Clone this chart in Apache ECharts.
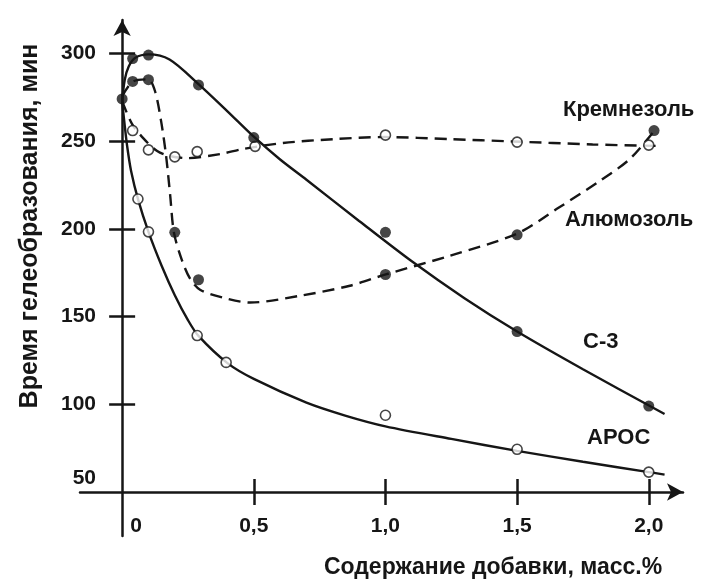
<!DOCTYPE html>
<html>
<head>
<meta charset="utf-8">
<script src="https://cdn.jsdelivr.net/npm/echarts@6/dist/echarts.min.js"></script>
<style>
  html, body { margin: 0; background: #fff; }
  #main { width: 701px; height: 579px; }
</style>
</head>
<body>
<div id="main"></div>
<script>
// сглаженные кривые
const c3CurveX = [0, 0.01, 0.025, 0.05, 0.1, 0.18, 0.29, 0.4, 0.5, 0.6, 0.7, 0.9, 1.1, 1.3, 1.5, 1.75, 2.06];
const c3CurveY = [273, 285, 292.5, 297.5, 299.4, 296.5, 282.5, 267, 252.5, 239.5, 228, 204.5, 181.5, 160.5, 141.5, 120, 94.5];

const alCurveX = [0, 0.042, 0.099, 0.125, 0.148, 0.167, 0.182, 0.197, 0.228, 0.258, 0.296, 0.383, 0.486, 0.676, 0.865, 0.998, 1.245, 1.499, 1.651, 1.814, 1.928, 2.023];
const alCurveY = [275.6, 284, 285.2, 278.4, 261.4, 241.5, 219.9, 197.7, 181.8, 171.6, 165.3, 160.8, 158, 161.9, 167.6, 173.9, 184.7, 197.2, 211.4, 227.3, 239.8, 256.3];

const krCurveX = [0, 0.038, 0.08, 0.133, 0.182, 0.247, 0.372, 0.459, 0.611, 0.801, 0.998, 1.245, 1.484, 1.787, 2.049];
const krCurveY = [272.7, 259.7, 251.7, 244.3, 241.5, 240.3, 242.6, 245.5, 248.9, 251.1, 252.3, 251.1, 249.8, 248.1, 247.2];

const arCurveX = [0, 0.008, 0.019, 0.034, 0.061, 0.1, 0.15, 0.2, 0.25, 0.29, 0.4, 0.5, 0.7, 0.85, 1.0, 1.25, 1.5, 1.75, 2.0, 2.06];
const arCurveY = [272.7, 261.4, 247.2, 233, 216.5, 198.3, 179, 162.2, 148, 139, 123.5, 114.5, 101, 93.5, 87.5, 80.3, 73.5, 67.3, 61.4, 60];

// экспериментальные точки
const c3PtX = [0, 0.04, 0.1, 0.29, 0.5, 1.0, 1.5, 2.0];
const c3PtY = [274, 297, 299, 282, 252, 198, 141.5, 99];

const alPtX = [0.04, 0.1, 0.2, 0.29, 1.0, 1.5, 2.02];
const alPtY = [284, 285, 198, 171, 174, 196.6, 256];

const krPtX = [0.04, 0.1, 0.2, 0.285, 0.505, 1.0, 1.5, 2.0];
const krPtY = [256, 245, 241, 244, 247, 253.4, 249.4, 247.7];

const arPtX = [0.06, 0.1, 0.285, 0.395, 1.0, 1.5, 2.0];
const arPtY = [217, 198.3, 139.2, 123.9, 93.8, 74.4, 61.4];

// оси
const xTicks = [0.5, 1.0, 1.5, 2.0];
const xLabels = [0, 0.5, 1.0, 1.5, 2.0];
const yTicks = [100, 150, 200, 250, 300];
const yLabels = [50, 100, 150, 200, 250, 300];

const curveNames = ['Кремнезоль', 'Алюмозоль', 'С-3', 'АРОС'];

const ink = '#161616';
const font = "'Liberation Sans', Arial, sans-serif";

function zip(xs, ys) {
  return xs.map((x, i) => [x, ys[i]]);
}

let chart = echarts.init(document.getElementById('main'));

let tickStyle = { color: ink, width: 2.5 };
let labelStyle = { fontSize: 21, fontWeight: 'bold', color: ink, fontFamily: font };

let curve = (name, xs, ys, dashed) => ({
  name: name,
  type: 'line',
  data: zip(xs, ys),
  smooth: 0.3,
  showSymbol: false,
  silent: true,
  z: 2,
  lineStyle: { color: ink, width: 2.4, type: dashed ? [12, 7] : 'solid', cap: 'butt' },
});

let points = (name, xs, ys, filled) => ({
  name: name,
  type: 'scatter',
  data: zip(xs, ys),
  symbol: 'circle',
  symbolSize: filled ? 11 : 10,
  z: 3,
  itemStyle: filled
    ? { color: ink }
    : { color: '#fff', borderColor: ink, borderWidth: 1.6 },
});

let option = {
  animation: false,
  backgroundColor: '#fff',
  grid: { left: 80, right: 18, top: 20, bottom: 43 },
  xAxis: [
    {
      type: 'value',
      position: 'bottom',
      min: -0.16,
      max: 2.13,
      offset: -44,
      axisLine: {
        show: true,
        onZero: false,
        symbol: ['none', 'arrow'],
        symbolSize: [13, 16],
        lineStyle: { color: ink, width: 2.5 },
      },
      axisTick: { show: true, customValues: xTicks, length: 13, lineStyle: tickStyle },
      axisLabel: {
        customValues: xLabels,
        margin: 24,
        ...labelStyle,
        formatter: (v) => (v === 0 ? '{z|0}' : v.toFixed(1).replace('.', ',')),
        rich: { z: { ...labelStyle, padding: [0, 0, 0, 28] } },
      },
      splitLine: { show: false },
    },
    {
      type: 'value',
      position: 'bottom',
      min: -0.16,
      max: 2.13,
      offset: -44,
      axisLine: { show: false, onZero: false },
      axisTick: { show: true, inside: true, customValues: xTicks, length: 13, lineStyle: tickStyle },
      axisLabel: { show: false },
      splitLine: { show: false },
    },
  ],
  yAxis: [
    {
      type: 'value',
      min: 25,
      max: 319,
      position: 'left',
      axisLine: {
        show: true,
        onZero: true,
        symbol: ['none', 'arrow'],
        symbolSize: [13, 16],
        lineStyle: { color: ink, width: 2.5 },
      },
      axisTick: { show: true, customValues: yTicks, length: 13, lineStyle: tickStyle },
      axisLabel: {
        customValues: yLabels,
        margin: -16,
        ...labelStyle,
        formatter: (v) => (v === 50 ? '{f|50}' : String(v)),
        rich: { f: { ...labelStyle, padding: [0, 0, 28, 0] } },
      },
      splitLine: { show: false },
    },
    {
      type: 'value',
      min: 25,
      max: 319,
      position: 'left',
      axisLine: { show: false, onZero: true },
      axisTick: { show: true, inside: true, customValues: yTicks, length: 13, lineStyle: tickStyle },
      axisLabel: { show: false },
      splitLine: { show: false },
    },
  ],
  graphic: [
    {
      type: 'text', x: 30, y: 226, rotation: Math.PI / 2,
      style: { text: 'Время гелеобразования, мин', align: 'center', verticalAlign: 'middle', fontSize: 25, fontWeight: 'bold', fontFamily: font, fill: ink },
    },
    {
      type: 'text', x: 493, y: 568,
      style: { text: 'Содержание добавки, масс.%', align: 'center', verticalAlign: 'middle', fontSize: 23, fontWeight: 'bold', fontFamily: font, fill: ink },
    },
    {
      type: 'text', x: 563, y: 110,
      style: { text: curveNames[0], align: 'left', verticalAlign: 'middle', fontSize: 22, fontWeight: 'bold', fontFamily: font, fill: ink },
    },
    {
      type: 'text', x: 565, y: 220,
      style: { text: curveNames[1], align: 'left', verticalAlign: 'middle', fontSize: 22, fontWeight: 'bold', fontFamily: font, fill: ink },
    },
    {
      type: 'text', x: 583, y: 342,
      style: { text: curveNames[2], align: 'left', verticalAlign: 'middle', fontSize: 22, fontWeight: 'bold', fontFamily: font, fill: ink },
    },
    {
      type: 'text', x: 587, y: 438,
      style: { text: curveNames[3], align: 'left', verticalAlign: 'middle', fontSize: 22, fontWeight: 'bold', fontFamily: font, fill: ink },
    },
  ],
  series: [
    curve(curveNames[0], krCurveX, krCurveY, true),
    curve(curveNames[1], alCurveX, alCurveY, true),
    curve(curveNames[2], c3CurveX, c3CurveY, false),
    curve(curveNames[3], arCurveX, arCurveY, false),
    points(curveNames[0], krPtX, krPtY, false),
    points(curveNames[1], alPtX, alPtY, true),
    points(curveNames[2], c3PtX, c3PtY, true),
    points(curveNames[3], arPtX, arPtY, false),
  ],
};

chart.setOption(option);
</script>
</body>
</html>
